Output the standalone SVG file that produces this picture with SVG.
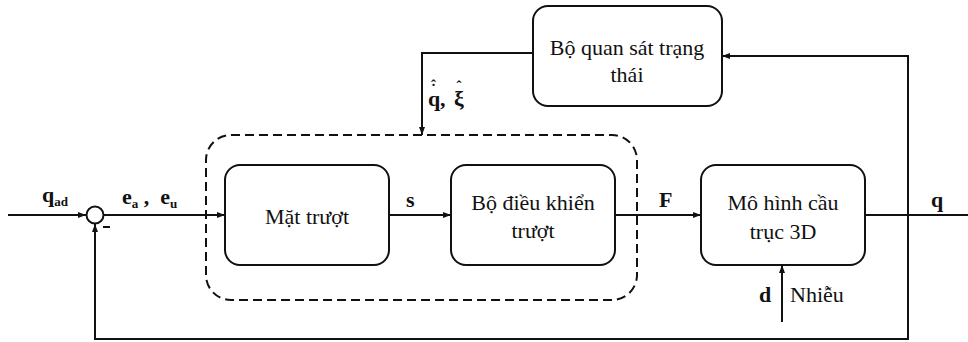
<svg xmlns="http://www.w3.org/2000/svg" width="968" height="342" viewBox="0 0 968 342">
<defs>
<style>
.box{fill:#fff;stroke:#111;stroke-width:2}
.ln{fill:none;stroke:#111;stroke-width:2}
.dash{fill:none;stroke:#111;stroke-width:2;stroke-dasharray:9 5}
.bt{font-family:"Liberation Serif","DejaVu Serif",serif;font-size:22px;fill:#111;text-anchor:middle}
.lb{font-family:"Liberation Serif","DejaVu Serif",serif;font-size:22px;font-weight:bold;fill:#111}
.sub{font-size:13px}
.acc{font-family:"Liberation Serif","DejaVu Serif",serif;font-size:15px;font-weight:bold;fill:#111;text-anchor:middle}
</style>
<marker id="ar" markerWidth="8" markerHeight="8" refX="8" refY="4" orient="auto" markerUnits="userSpaceOnUse">
<path d="M0,1 L8,4 L0,7 Z" fill="#111"/>
</marker>
</defs>
<rect width="968" height="342" fill="#fff"/>

<g id="connectors">
<line class="ln" x1="8" y1="215" x2="86" y2="215" marker-end="url(#ar)"/>
<line class="ln" x1="103" y1="215" x2="225" y2="215" marker-end="url(#ar)"/>
<line class="ln" x1="389" y1="215" x2="451" y2="215" marker-end="url(#ar)"/>
<line class="ln" x1="615" y1="215" x2="701" y2="215" marker-end="url(#ar)"/>
<line class="ln" x1="865" y1="215" x2="968" y2="215"/>
<polyline class="ln" points="908,215 908,56 722,56" marker-end="url(#ar)"/>
<polyline class="ln" points="908,215 908,339 95,339 95,224" marker-end="url(#ar)"/>
<polyline class="ln" points="533,53 422,53 422,135" marker-end="url(#ar)"/>
<line class="ln" x1="782" y1="322" x2="782" y2="265" marker-end="url(#ar)"/>
</g>

<g id="sum">
<circle class="box" cx="95" cy="215" r="8.5"/>
<line class="ln" x1="103" y1="227" x2="110" y2="227"/>
</g>

<g id="controller-group">
<rect class="dash" x="206" y="135" width="431" height="165" rx="25" ry="25"/>
</g>

<g id="observer">
<rect class="box" x="533" y="6" width="189" height="100" rx="15" ry="15"/>
<text class="bt" x="627" y="55">Bộ quan sát trạng</text>
<text class="bt" x="627" y="82">thái</text>
</g>

<g id="sliding-surface">
<rect class="box" x="225" y="165" width="164" height="100" rx="15" ry="15"/>
<text class="bt" x="307" y="224">Mặt trượt</text>
</g>

<g id="sliding-controller">
<rect class="box" x="451" y="165" width="164" height="100" rx="15" ry="15"/>
<text class="bt" x="533" y="210">Bộ điều khiển</text>
<text class="bt" x="533" y="238">trượt</text>
</g>

<g id="crane-model">
<rect class="box" x="701" y="165" width="164" height="100" rx="15" ry="15"/>
<text class="bt" x="783" y="210">Mô hình cầu</text>
<text class="bt" x="783" y="239">trục 3D</text>
</g>

<g id="labels">
<text class="lb" x="42" y="202">q<tspan class="sub" dy="4">ad</tspan></text>
<text class="lb" x="122" y="204">e<tspan class="sub" dy="4">a</tspan><tspan dy="-4" xml:space="preserve"> ,  e</tspan><tspan class="sub" dy="4">u</tspan></text>
<text class="lb" x="406" y="207">s</text>
<text class="lb" x="659" y="207">F</text>
<text class="lb" x="931" y="207">q</text>
<text class="lb" x="759" y="302">d</text>
<text class="bt" x="790" y="302" style="text-anchor:start">Nhiễu</text>
<text class="lb" x="428" y="106">q</text>
<text class="lb" x="440" y="106">,</text>
<text class="lb" x="454" y="106">ξ</text>
<text class="acc" x="433.5" y="94">˙</text>
<text class="acc" x="433.5" y="90">ˆ</text>
<text class="acc" x="459" y="91">ˆ</text>
</g>
</svg>
